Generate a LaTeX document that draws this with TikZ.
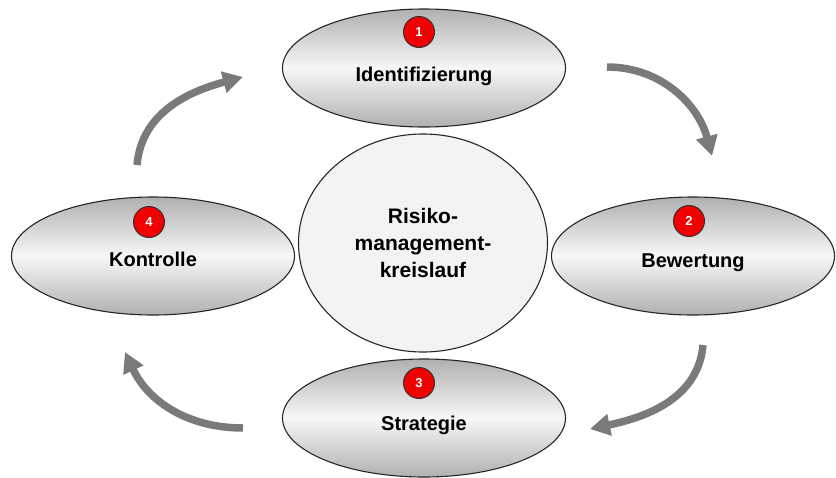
\documentclass[tikz,border=0pt]{standalone}
\usepackage{fontspec}
\setmainfont{Liberation Sans}
\usepackage{xcolor}
\usetikzlibrary{shapes.geometric,arrows.meta}

\definecolor{randgrau}{RGB}{176,176,176}
\definecolor{mittegrau}{RGB}{247,247,247}
\definecolor{kreisgrau}{RGB}{243,243,243}
\definecolor{pfeilgrau}{RGB}{122,122,122}
\definecolor{nrrot}{RGB}{240,0,0}

\tikzset{
  phase/.style={ellipse, draw=black!85, line width=1.1pt, inner sep=0pt,
    minimum width=283pt, minimum height=118pt,
    top color=randgrau, bottom color=randgrau, middle color=mittegrau},
  phasetext/.style={anchor=base, font=\bfseries\fontsize{20}{24}\selectfont},
  nummer/.style={circle, draw=black!80, line width=1pt, fill=nrrot,
    minimum size=31pt, inner sep=0pt, text=white,
    font=\bfseries\fontsize{13}{15}\selectfont},
  pfeil/.style={draw=pfeilgrau, line width=7.5pt,
    -{Triangle[length=20pt,width=21pt]}}
}

\begin{document}
\begin{tikzpicture}[x=1pt,y=1pt]
  \useasboundingbox (0,0) rectangle (836,-477);

  % die vier Phasen
  \node[phase] (ident) at (424,-68) {};
  \node[phase] (bewert) at (693,-256) {};
  \node[phase] (strat) at (424,-418) {};
  \node[phase] (kontr) at (153,-256) {};

  \node[phasetext] (ident-txt) at (424,-81) {Identifizierung};
  \node[phasetext] (bewert-txt) at (693,-267) {Bewertung};
  \node[phasetext] (strat-txt) at (424,-430) {Strategie};
  \node[phasetext] (kontr-txt) at (153,-266) {Kontrolle};

  \node[nummer] (ident-nr) at (419,-32) {1};
  \node[nummer] (bewert-nr) at (689,-221) {2};
  \node[nummer] (strat-nr) at (419,-383) {3};
  \node[nummer] (kontr-nr) at (149,-222) {4};

  % Mitte
  \node[ellipse, draw=black!85, line width=1.1pt, fill=kreisgrau,
    minimum width=249pt, minimum height=218pt, inner sep=0pt, align=center,
    font=\bfseries\fontsize{21}{27}\selectfont] (kreis) at (423,-243)
    {Risiko-\\management-\\kreislauf};

  % Pfeile im Uhrzeigersinn
  \coordinate (p1a) at (607,-67);
  \coordinate (p1b) at (712,-156);
  \coordinate (p2a) at (703,-345);
  \coordinate (p2b) at (590,-429);
  \coordinate (p3a) at (243,-428);
  \coordinate (p3b) at (125,-352);
  \coordinate (p4a) at (137,-165);
  \coordinate (p4b) at (243,-77);

  \draw[pfeil] (p1a) to[out=0,in=105] (p1b);
  \draw[pfeil] (p2a) to[out=-95,in=12] (p2b);
  \draw[pfeil] (p3a) to[out=180,in=-65] (p3b);
  \draw[pfeil] (p4a) to[out=85,in=195] (p4b);
\end{tikzpicture}
\end{document}
